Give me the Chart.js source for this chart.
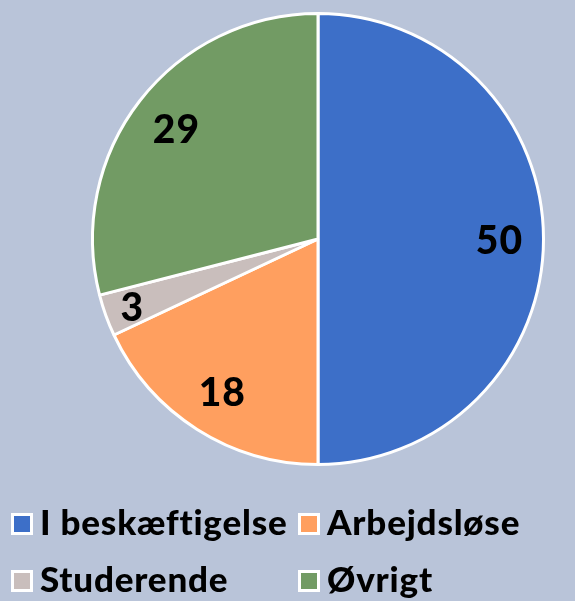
<!DOCTYPE html>
<html>
<head>
<meta charset="utf-8">
<script src="https://cdn.jsdelivr.net/npm/chart.js@4"></script>
<style>
  html, body { margin: 0; padding: 0; background: #B9C4D9; }
  #wrap { width: 575px; height: 601px; position: relative; }
</style>
</head>
<body>
<div id="wrap"><canvas id="myChart" width="575" height="601"></canvas></div>
<script>
const categories = ['I beskæftigelse', 'Arbejdsløse', 'Studerende', 'Øvrigt'];
const values = [50, 18, 3, 29];
const colors = ['#3D6FC8', '#FF9F5F', '#C9BEBC', '#729B64'];

const FONT = 'Lato, "Noto Sans", sans-serif';

// value labels placed along each slice's mid angle
const valueLabels = {
  id: 'valueLabels',
  afterDatasetsDraw(chart) {
    const ctx = chart.ctx;
    const meta = chart.getDatasetMeta(0);
    ctx.save();
    ctx.font = '900 39px ' + FONT;
    ctx.letterSpacing = '1px';
    ctx.fillStyle = '#000';
    ctx.textAlign = 'center';
    ctx.textBaseline = 'middle';
    meta.data.forEach((arc, i) => {
      const p = arc.getProps(['x', 'y', 'startAngle', 'endAngle', 'outerRadius'], true);
      const mid = (p.startAngle + p.endAngle) / 2;
      const k = values[i] < 5 ? 0.88 : 0.8;
      const r = p.outerRadius * k;
      ctx.fillText(String(values[i]), p.x + Math.cos(mid) * r + 1, p.y + Math.sin(mid) * r + 2);
    });
    ctx.restore();
  }
};

// two-column legend under the pie
const gridLegend = {
  id: 'gridLegend',
  afterDraw(chart) {
    const ctx = chart.ctx;
    const cols = [11, 298];
    const rows = [513, 570];
    ctx.save();
    ctx.font = '900 35px ' + FONT;
    ctx.letterSpacing = '0.8px';
    ctx.textBaseline = 'alphabetic';
    categories.forEach((name, i) => {
      const x = cols[i % 2];
      const y = rows[Math.floor(i / 2)];
      ctx.fillStyle = '#fff';
      ctx.fillRect(x, y, 22, 22);
      ctx.fillStyle = colors[i];
      ctx.fillRect(x + 3, y + 3, 16, 16);
      ctx.fillStyle = '#000';
      ctx.fillText(name, x + 29, y + 22);
    });
    ctx.restore();
  }
};

const ctx = document.getElementById('myChart').getContext('2d');
new Chart(ctx, {
  type: 'pie',
  data: {
    labels: categories,
    datasets: [{
      data: values,
      backgroundColor: colors,
      borderColor: '#fff',
      borderWidth: 3,
      hoverOffset: 0
    }]
  },
  options: {
    responsive: false,
    animation: false,
    layout: { padding: { left: 91, right: 30, top: 12, bottom: 135 } },
    plugins: {
      legend: { display: false },
      tooltip: { enabled: false }
    }
  },
  plugins: [valueLabels, gridLegend]
});
</script>
</body>
</html>
